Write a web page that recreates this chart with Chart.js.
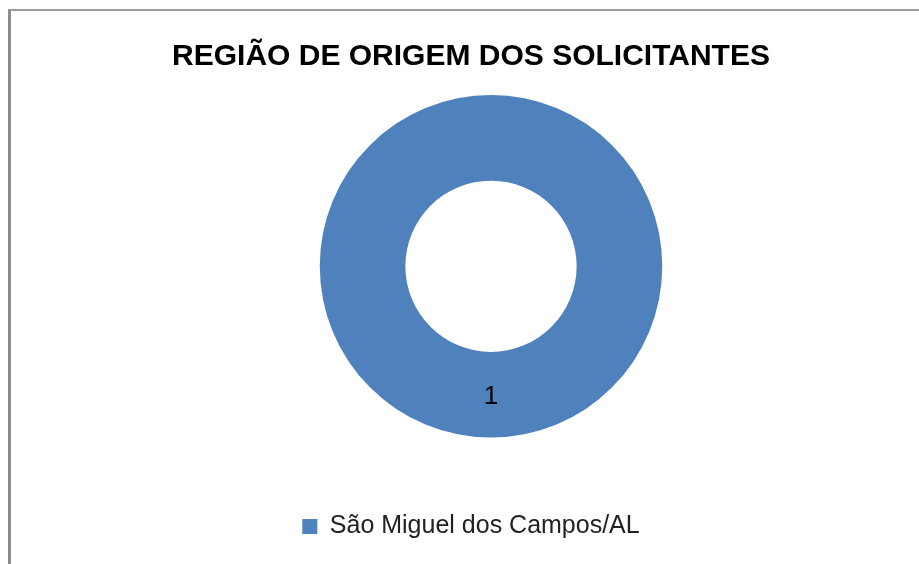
<!DOCTYPE html>
<html>
<head>
<meta charset="utf-8">
<script src="https://cdn.jsdelivr.net/npm/chart.js@4.4.1/dist/chart.umd.min.js"></script>
<style>
    html, body { margin: 0; padding: 0; background: #fff; overflow: hidden; width: 919px; height: 564px; }
    #frame { position: absolute; left: 8px; top: 9px; width: 940px; height: 640px;
             border-left: 3px solid #8c8c8c; border-top: 2px solid #9a9a9a; }
    #chart { position: absolute; left: 0; top: 0; }
</style>
</head>
<body>
<div id="frame"><canvas id="chart" width="920" height="538"></canvas></div>
<script>
const regions = ["São Miguel dos Campos/AL"];
const requests = [1];
const sliceColors = ["#4f81bd"];
const chartTitle = "REGIÃO DE ORIGEM DOS SOLICITANTES";

// shift the plot area a bit to the right, like the original sheet
const shiftArea = {
    id: 'shiftArea',
    afterLayout(chart) {
        chart.chartArea.left += 40;
        chart.chartArea.width -= 40;
    }
};

// value in the middle of each ring slice
const sliceValues = {
    id: 'sliceValues',
    afterDatasetsDraw(chart) {
        const ctx = chart.ctx;
        const meta = chart.getDatasetMeta(0);
        ctx.save();
        ctx.font = '26px "Liberation Sans", Arial, sans-serif';
        ctx.fillStyle = '#000';
        ctx.textAlign = 'center';
        ctx.textBaseline = 'middle';
        meta.data.forEach((arc, i) => {
            const p = arc.getCenterPoint();
            ctx.fillText(chart.data.datasets[0].data[i], p.x, p.y + 2);
        });
        ctx.restore();
    }
};

const ctx = document.getElementById("chart").getContext("2d");
new Chart(ctx, {
    type: 'doughnut',
    data: {
        labels: regions,
        datasets: [{ data: requests, backgroundColor: sliceColors, borderWidth: 0 }]
    },
    options: {
        responsive: false,
        animation: false,
        cutout: '50%',
        layout: { padding: 0 },
        plugins: {
            title: {
                display: true,
                text: chartTitle,
                color: '#000',
                font: { family: '"Liberation Sans", Arial, sans-serif', size: 30, weight: 'bold' },
                padding: { top: 28, bottom: 20 }
            },
            legend: {
                position: 'bottom',
                labels: {
                    color: '#222',
                    boxWidth: 15,
                    boxHeight: 15,
                    padding: 76.5,
                    font: { family: '"Liberation Sans", Arial, sans-serif', size: 25 }
                }
            },
            tooltip: { enabled: false }
        }
    },
    plugins: [shiftArea, sliceValues]
});
</script>
</body>
</html>
